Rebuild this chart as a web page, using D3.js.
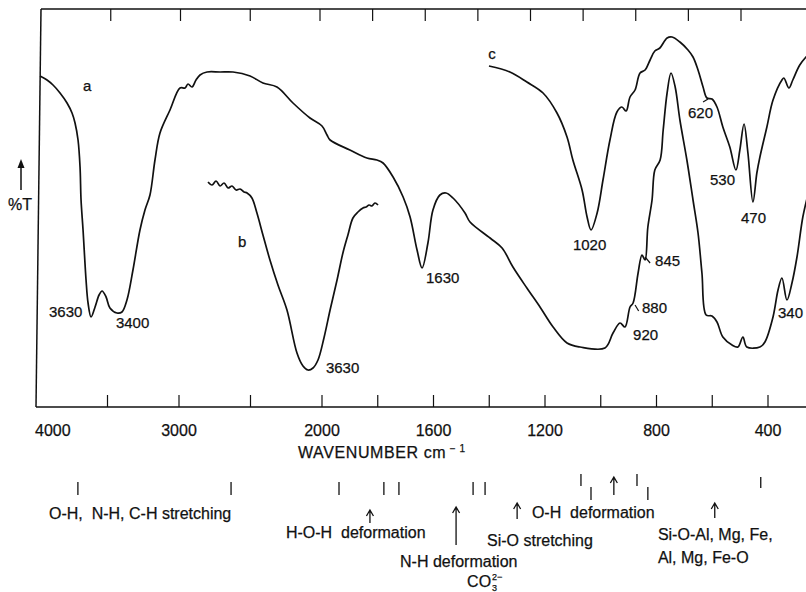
<!DOCTYPE html>
<html>
<head>
<meta charset="utf-8">
<script src="https://cdn.jsdelivr.net/npm/d3@7"></script>
<style>
  body { margin: 0; background: #fff; }
  text { font-family: "Liberation Sans", Arial, Helvetica, sans-serif; fill: #111; stroke: #111; stroke-width: 0.25; white-space: pre; }
</style>
</head>
<body>
<svg id="chart" width="806" height="592"></svg>
<script>
// Spectrum a
const waveA = [3972, 3923, 3881, 3832, 3783, 3748, 3727, 3706, 3692, 3685, 3671, 3650, 3636, 3615, 3587, 3559, 3538, 3510, 3483, 3434, 3399, 3364, 3322, 3273, 3238, 3203, 3168, 3133, 3063, 2993, 2958, 2937, 2909, 2881, 2853, 2804, 2713, 2622, 2503, 2413, 2315, 2203, 2084, 2000, 1982, 1971, 1900, 1839, 1803, 1781, 1745, 1709, 1684, 1659, 1641, 1620, 1602, 1577, 1555, 1530, 1487, 1469, 1397, 1354, 1315, 1265, 1218, 1171, 1121, 1074, 985, 956, 931, 913, 895, 884, 866, 852, 841, 831, 816, 806, 787, 776, 762, 748, 733, 716, 691, 669, 651, 637, 622, 601, 583, 562, 529, 508, 490, 476, 429, 411, 382, 364, 350, 332, 314, 296, 275, 257];
const transA = [82.75, 81.75, 80.5, 78.5, 76, 73.5, 71, 66.75, 60, 51.75, 44.25, 31.75, 26, 22.5, 25, 28, 29, 27.5, 24.75, 23.5, 23.75, 26.75, 34.25, 44.25, 49.25, 53, 61.75, 68.5, 74.25, 79.75, 79.75, 80.75, 80, 81.75, 83, 83.75, 83.75, 83.75, 82.75, 81, 80, 76, 72.25, 70.25, 68, 66.75, 64.25, 62.25, 61.75, 61, 57.5, 52.5, 47.5, 39.25, 34.75, 41, 49.25, 53, 53.5, 52.25, 48.5, 46.25, 42.25, 39.75, 35, 29.75, 25, 20, 16, 15, 14.75, 18.5, 21, 20, 25, 26, 33.5, 38, 36.75, 45, 51.75, 59.25, 61.75, 69.25, 78.5, 83.5, 80, 71.75, 61.75, 51.75, 43.5, 33.5, 23, 22.75, 21.25, 17.5, 15.5, 15, 17.5, 15, 15, 16.25, 22.5, 29.25, 32.25, 26.75, 31, 37.5, 47.5, 53];

// Spectrum b
const waveB = [2797, 2769, 2741, 2713, 2685, 2657, 2629, 2601, 2573, 2545, 2524, 2490, 2455, 2413, 2364, 2308, 2245, 2175, 2133, 2098, 2063, 2028, 1993, 1971, 1946, 1925, 1907, 1889, 1871, 1853, 1842, 1831, 1821, 1810, 1799];
const transB = [56.25, 55.5, 56.5, 55.25, 56, 54.75, 55.25, 54.25, 54.5, 53.75, 53.5, 52.25, 48.5, 43, 36.75, 30.5, 24.25, 13.5, 10.25, 9.25, 9.75, 11.75, 17.25, 24.25, 31.75, 38.5, 43, 47.25, 48.75, 49.75, 50, 50.5, 50.25, 51, 50.5];

// Spectrum c
const waveC = [1401, 1326, 1265, 1207, 1157, 1121, 1100, 1067, 1049, 1035, 1013, 992, 967, 942, 924, 909, 895, 877, 859, 841, 823, 806, 788, 762, 744, 716, 687, 669, 651, 633, 619, 601, 583, 562, 537, 515, 501, 486, 472, 454, 440, 429, 404, 382, 350, 343, 325, 311, 286, 257];
const transC = [85.25, 83.75, 81.25, 78.5, 73.5, 67.5, 61.75, 54.25, 47.5, 44.25, 48.5, 56.75, 66.75, 73.75, 75, 74, 77.5, 79.25, 83.5, 84.25, 86.75, 89, 89.75, 92.25, 92.5, 91.25, 89.25, 87.5, 84.25, 80, 77.25, 77, 75, 70, 65, 59.25, 64.25, 70.75, 63.5, 51.25, 58.5, 62.5, 70, 76.75, 81.75, 82.25, 79.75, 81.75, 85.5, 88];

// Peak labels (text start, baseline)
const peakText = ['3630', '3400', '3630', '1630', '1020', '845', '880', '920', '340', '620', '530', '470', 'a', 'b', 'c'];
const peakWave = [3909, 3441, 1986, 1627, 1100, 805, 852, 884, 364, 687, 608, 497, 3671, 2587, 1404];
const peakT = [22.5, 19.75, 8.5, 31, 39.25, 35.25, 23.5, 16.75, 22.25, 72.25, 55.5, 46, 79, 40, 87];

// Leader lines [wave1, T1, wave2, T2]
const leaders = [[841, 37.5, 823, 36], [877, 25.5, 864, 24], [633, 76.25, 615, 77]];

// Axis ticks
const tickValues = [3500, 3000, 2500, 2000, 1800, 1600, 1400, 1200, 1000, 800, 600, 400];
const tickLabels = [4000, 3000, 2000, 1600, 1200, 800, 400];

// Band assignment marks below the axis
const bandMarksMid = [3707, 2636, 1939, 1778, 1724, 1458, 1415];
const bandMarksHigh = [1071, 870];
const bandMarksLow = [1035, 831];
const bandMarksSide = [426];
const arrowWaves = [1828, 1519, 1300, 953, 591];
const noteTexts = ['O-H,  N-H, C-H stretching', 'H-O-H  deformation', 'O-H  deformation',
  'Si-O stretching', 'N-H deformation', 'Si-O-Al, Mg, Fe,', 'Al, Mg, Fe-O'];
const noteWaves = [3909, 2252, 1247, 1408, 1720, 795, 795];

// Scales (the instrument halves the scale below 2000 cm-1)
const x = d3.scaleLinear().domain([4000, 2000, 400, 250]).range([36, 322, 768, 809.8]);
const xTop = d3.scaleLinear().domain([4000, 2000, 400]).range([41, 320, 741]);
const y = d3.scaleLinear().domain([0, 100]).range([407, 7]);

const svg = d3.select('#chart');
const ink = '#111';

// Frame
const frame = svg.append('g')
  .attr('stroke', ink)
  .attr('stroke-width', 1.5)
  .attr('fill', 'none');
frame.append('line')
  .attr('x1', xTop(4000)).attr('y1', y(99.5))
  .attr('x2', 806).attr('y2', y(99.5));
frame.append('line')
  .attr('x1', x(4000)).attr('y1', y(0))
  .attr('x2', 806).attr('y2', y(0));
frame.append('line')
  .attr('x1', xTop(4000)).attr('y1', y(99.5))
  .attr('x2', x(4000)).attr('y2', y(0));
frame.selectAll('.tb')
  .data(tickValues)
  .join('line')
    .attr('class', 'tb')
    .attr('x1', (d) => x(d)).attr('x2', (d) => x(d))
    .attr('y1', y(0)).attr('y2', y(0) - 12)
    .attr('stroke-width', 1.2);
frame.selectAll('.tt')
  .data(tickValues)
  .join('line')
    .attr('class', 'tt')
    .attr('x1', (d) => xTop(d)).attr('x2', (d) => xTop(d))
    .attr('y1', y(99.5)).attr('y2', y(99.5) + 12)
    .attr('stroke-width', 1.2);

// Tick labels
svg.append('g')
  .selectAll('text')
  .data(tickLabels)
  .join('text')
    .attr('x', (d) => d === 4000 ? x(d) - 1 : x(d))
    .attr('y', 436)
    .attr('text-anchor', (d) => d === 4000 ? 'start' : 'middle')
    .attr('font-size', 16)
    .text((d) => d);

const axisTitle = svg.append('text')
  .attr('x', 298)
  .attr('y', 458)
  .attr('font-size', 16)
  .attr('letter-spacing', 0.6);
axisTitle.append('tspan').text('WAVENUMBER cm');
axisTitle.append('tspan').attr('dy', -6).attr('font-size', 10).text(' \u2212 1');

// %T label with arrow
svg.append('line')
  .attr('x1', 21).attr('x2', 21)
  .attr('y1', 190).attr('y2', 166)
  .attr('stroke', ink).attr('stroke-width', 1.5);
svg.append('path')
  .attr('d', 'M21,159 L17.5,168 L24.5,168 Z')
  .attr('fill', ink);
svg.append('text')
  .attr('x', 8).attr('y', 210)
  .attr('font-size', 16)
  .text('%T');

// Spectra
const line = d3.line()
  .x((d) => x(d[0]))
  .y((d) => y(d[1]))
  .curve(d3.curveCatmullRom.alpha(0.5));
const spectra = [d3.zip(waveA, transA), d3.zip(waveB, transB), d3.zip(waveC, transC)];
svg.append('g')
  .selectAll('path')
  .data(spectra)
  .join('path')
    .attr('d', line)
    .attr('fill', 'none')
    .attr('stroke', ink)
    .attr('stroke-width', 1.7)
    .attr('stroke-linejoin', 'round');

// Peak labels
svg.append('g')
  .selectAll('text')
  .data(peakText)
  .join('text')
    .attr('x', (d, i) => x(peakWave[i]))
    .attr('y', (d, i) => y(peakT[i]))
    .attr('font-size', 15)
    .text((d) => d);
svg.append('g')
  .selectAll('line')
  .data(leaders)
  .join('line')
    .attr('x1', (d) => x(d[0])).attr('y1', (d) => y(d[1]))
    .attr('x2', (d) => x(d[2])).attr('y2', (d) => y(d[3]))
    .attr('stroke', ink).attr('stroke-width', 1.2);

// Band assignments
const notes = svg.append('g').attr('stroke', ink).attr('stroke-width', 1.3);
const markRows = [[bandMarksMid, 482, 495], [bandMarksHigh, 474, 486], [bandMarksLow, 487, 500], [bandMarksSide, 477, 488]];
markRows.forEach(([marks, y1, y2]) => {
  notes.append('g')
    .selectAll('line')
    .data(marks)
    .join('line')
      .attr('x1', (d) => x(d)).attr('x2', (d) => x(d))
      .attr('y1', y1).attr('y2', y2);
});
const arrowSpans = [[510, 523], [507, 545], [503, 519], [477, 495], [503, 518]];
notes.append('g')
  .selectAll('path')
  .data(arrowWaves)
  .join('path')
    .attr('fill', 'none')
    .attr('d', (d, i) => {
      const ax = x(d);
      const [top, bottom] = arrowSpans[i];
      return `M${ax},${bottom} L${ax},${top} M${ax - 3.5},${top + 6} L${ax},${top} L${ax + 3.5},${top + 6}`;
    });

const noteBaselines = [519, 538, 518, 546, 567, 540, 563];
svg.append('g')
  .selectAll('text')
  .data(noteTexts)
  .join('text')
    .attr('x', (d, i) => x(noteWaves[i]))
    .attr('y', (d, i) => noteBaselines[i])
    .attr('font-size', 16)
    .text((d) => d);

// Carbonate ion
const co = svg.append('text')
  .attr('x', x(1458) - 6)
  .attr('y', 587)
  .attr('font-size', 16)
  .text('CO');
const coEnd = x(1458) - 6 + co.node().getComputedTextLength() + 1;
svg.append('text')
  .attr('x', coEnd).attr('y', 580)
  .attr('font-size', 9)
  .text('2\u2212');
svg.append('text')
  .attr('x', coEnd).attr('y', 591)
  .attr('font-size', 9)
  .text('3');
</script>
</body>
</html>
